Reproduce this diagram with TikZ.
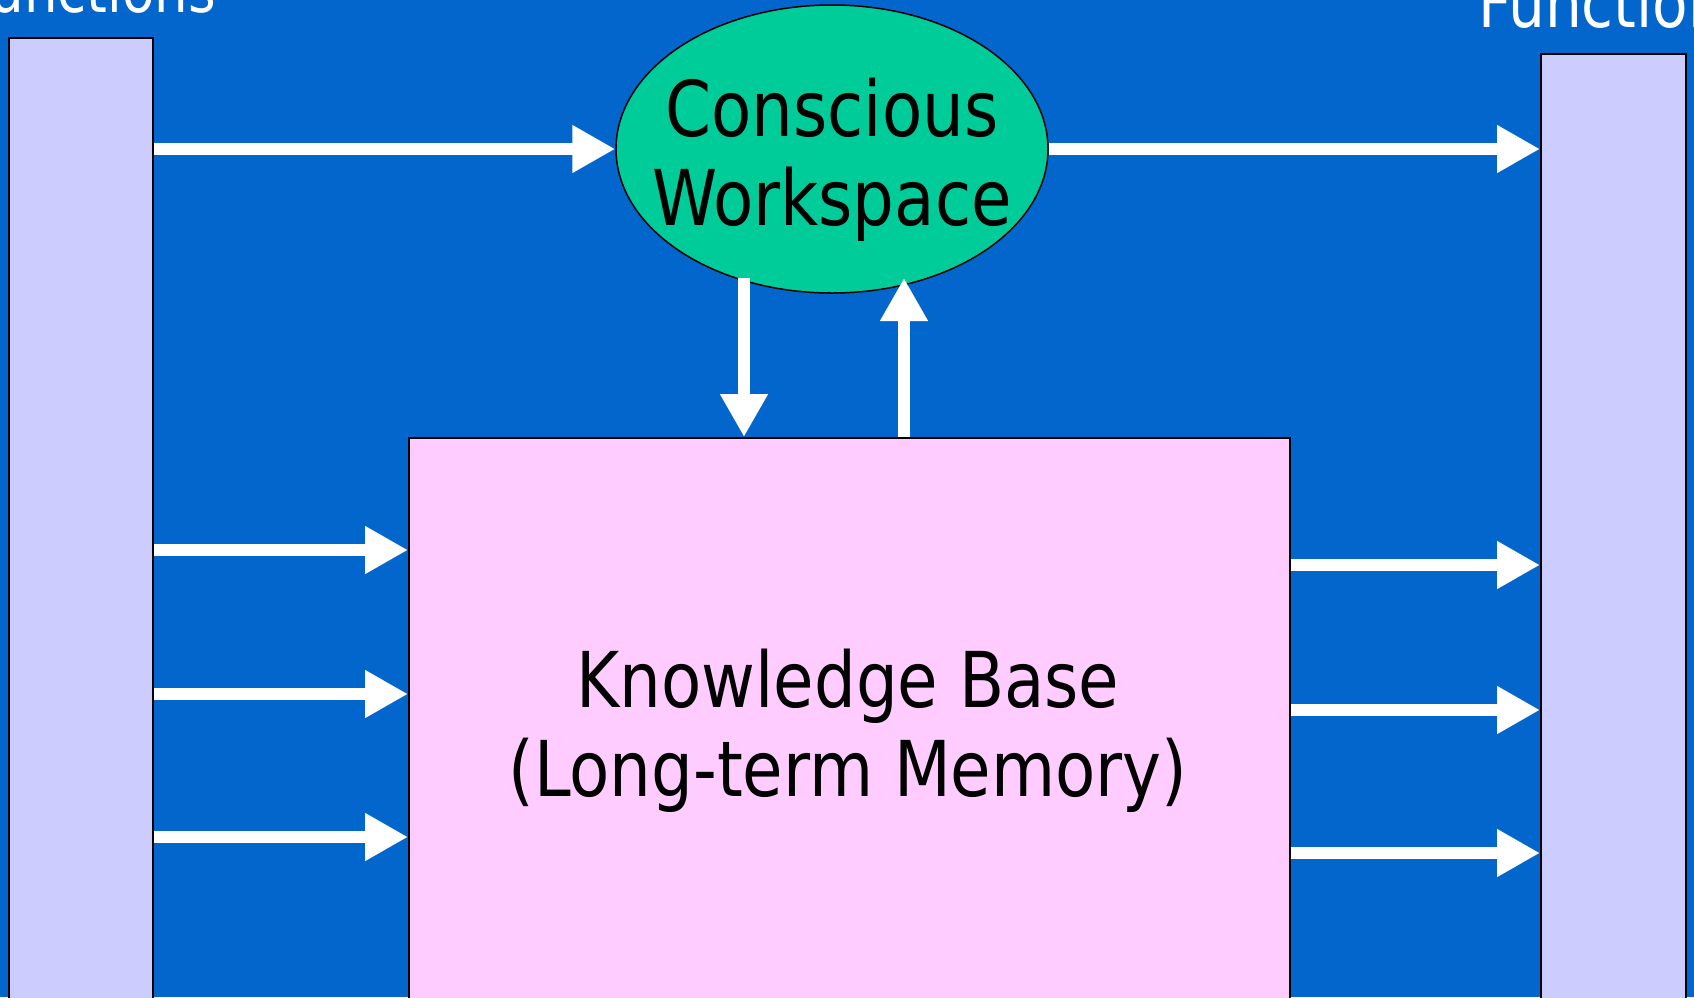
\documentclass[tikz,border=0pt]{standalone}
\usepackage{fontspec}
\setmainfont{DejaVu Sans Condensed}[FakeStretch=0.95]
\usetikzlibrary{arrows.meta,shapes.geometric}
\definecolor{bgblue}{RGB}{3,102,204}
\definecolor{wsgreen}{RGB}{0,204,153}
\definecolor{barlilac}{RGB}{204,204,255}
\definecolor{kbpink}{RGB}{255,204,255}

\begin{document}
\begin{tikzpicture}[x=1pt,y=-1pt,
  flow/.style={draw=white,line width=12pt,-{Triangle[length=43pt,width=45pt]}},
  bar/.style={draw=black,line width=2pt,fill=barlilac,rectangle,inner sep=0pt,anchor=north west},
  big/.style={font=\fontsize{77}{89}\selectfont,align=center,inner sep=0pt},
  caption/.style={text=white,inner sep=0pt}]
% page and background
\fill[bgblue] (0,0) rectangle (1694,997);
\useasboundingbox (0,0) rectangle (1694,997);
\clip (0,0) rectangle (1694,997);

% side columns
\node[bar,minimum width=144pt,minimum height=990pt] (lbar) at (8,37) {};
\node[bar,minimum width=145pt,minimum height=970pt] (rbar) at (1540,53) {};
\node[caption,font=\fontsize{62}{70}\selectfont,anchor=base east] (lbl) at (216,12) {Functions};
\node[caption,font=\fontsize{68}{76}\selectfont,anchor=base west] (rbl) at (1478,27) {Functions};

% long-term memory block
\node[draw=black,line width=1.5pt,fill=kbpink,rectangle,inner sep=0pt,anchor=north west,
      minimum width=881pt,minimum height=600pt] (kb) at (408,437) {};
\node[big,anchor=base] (kbtext) at (848,796) {Knowledge Base\\(Long-term Memory)};

% workspace
\node[ellipse,draw=black,line width=1.5pt,fill=wsgreen,inner sep=0pt,
      minimum width=432pt,minimum height=288pt] (ws) at (832,149) {};
\node[big,anchor=base] (wstext) at (832,225) {Conscious\\Workspace};

% connectors
\coordinate (dtop) at (744,278);
\coordinate (utop) at (904,278);
\draw[flow] (lbar.east |- ws.west) -- (ws.west);
\draw[flow] (ws.east) -- (rbar.west |- ws.east);
\draw[flow] (dtop) -- (dtop |- kb.north);
\draw[flow] (utop |- kb.north) -- (utop);
\foreach \y in {550,694,837}
  \draw[flow] (lbar.east |- 0,\y) -- (kb.west |- 0,\y);
\foreach \y in {565,710,853}
  \draw[flow] (kb.east |- 0,\y) -- (rbar.west |- 0,\y);
\end{tikzpicture}
\end{document}
